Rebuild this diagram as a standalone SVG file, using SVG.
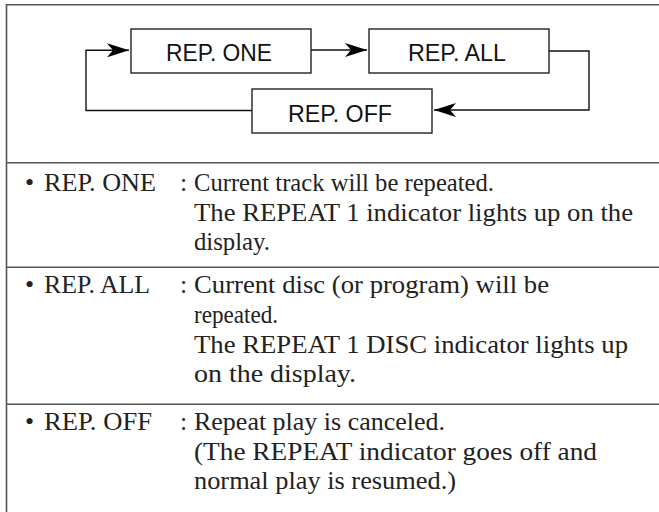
<svg xmlns="http://www.w3.org/2000/svg" width="659" height="512" viewBox="0 0 659 512">
<defs>
<style>
.frame{stroke:#555;stroke-width:1.6;fill:none}
.box{fill:#fff;stroke:#222;stroke-width:1.4}
.btxt{font-family:"Liberation Sans",Arial,sans-serif;font-size:23px;fill:#111;text-anchor:middle}
.conn{fill:none;stroke:#111;stroke-width:1.4}
.t{font-family:"Liberation Serif","Times New Roman",serif;font-size:26px;fill:#222}
</style>
<marker id="arr" markerUnits="userSpaceOnUse" markerWidth="22" markerHeight="14" viewBox="0 0 22 14" refX="22" refY="7" orient="auto">
<path d="M0,0 L22,7 L0,14 L6,7 Z" fill="#000"/>
</marker>
</defs>
<rect width="659" height="512" fill="#fff"/>
<g id="frame">
<path class="frame" d="M6.5,512 V4.7 H659"/>
<path class="frame" d="M6.5,162.7 H659 M6.5,267.3 H659 M6.5,404.3 H659"/>
</g>
<g id="connectors">
<path class="conn" d="M311,50 H367" marker-end="url(#arr)"/>
<path class="conn" d="M549,51 H589 V110 H434" marker-end="url(#arr)"/>
<path class="conn" d="M252,110.5 H86 V50.3 H129" marker-end="url(#arr)"/>
</g>
<g id="rep-one">
<rect class="box" x="131" y="29" width="180" height="44"/>
<text class="btxt" x="219" y="60.7" textLength="106" lengthAdjust="spacingAndGlyphs">REP. ONE</text>
</g>
<g id="rep-all">
<rect class="box" x="369" y="29" width="180" height="44"/>
<text class="btxt" x="457" y="60.7" textLength="98" lengthAdjust="spacingAndGlyphs">REP. ALL</text>
</g>
<g id="rep-off">
<rect class="box" x="252" y="89" width="180" height="44"/>
<text class="btxt" x="340" y="121.7" textLength="104" lengthAdjust="spacingAndGlyphs">REP. OFF</text>
</g>
<g id="row-one">
<text class="t" x="25" y="191">•</text>
<text class="t" x="44" y="191" textLength="112" lengthAdjust="spacingAndGlyphs">REP. ONE</text>
<text class="t" x="180" y="191">:</text>
<text class="t" x="194" y="191" textLength="300" lengthAdjust="spacingAndGlyphs">Current track will be repeated.</text>
<text class="t" x="194" y="221" textLength="439" lengthAdjust="spacingAndGlyphs">The REPEAT 1 indicator lights up on the</text>
<text class="t" x="194" y="250" textLength="76" lengthAdjust="spacingAndGlyphs">display.</text>
</g>
<g id="row-all">
<text class="t" x="25" y="293">•</text>
<text class="t" x="44" y="293" textLength="106" lengthAdjust="spacingAndGlyphs">REP. ALL</text>
<text class="t" x="180" y="293">:</text>
<text class="t" x="194" y="293" textLength="355" lengthAdjust="spacingAndGlyphs">Current disc (or program) will be</text>
<text class="t" x="194" y="323" textLength="84" lengthAdjust="spacingAndGlyphs">repeated.</text>
<text class="t" x="194" y="352.5" textLength="434" lengthAdjust="spacingAndGlyphs">The REPEAT 1 DISC indicator lights up</text>
<text class="t" x="194" y="382" textLength="162" lengthAdjust="spacingAndGlyphs">on the display.</text>
</g>
<g id="row-off">
<text class="t" x="25" y="430">•</text>
<text class="t" x="44" y="430" textLength="108" lengthAdjust="spacingAndGlyphs">REP. OFF</text>
<text class="t" x="180" y="430">:</text>
<text class="t" x="194" y="430" textLength="251" lengthAdjust="spacingAndGlyphs">Repeat play is canceled.</text>
<text class="t" x="194" y="460" textLength="403" lengthAdjust="spacingAndGlyphs">(The REPEAT indicator goes off and</text>
<text class="t" x="194" y="489" textLength="262" lengthAdjust="spacingAndGlyphs">normal play is resumed.)</text>
</g>
</svg>
